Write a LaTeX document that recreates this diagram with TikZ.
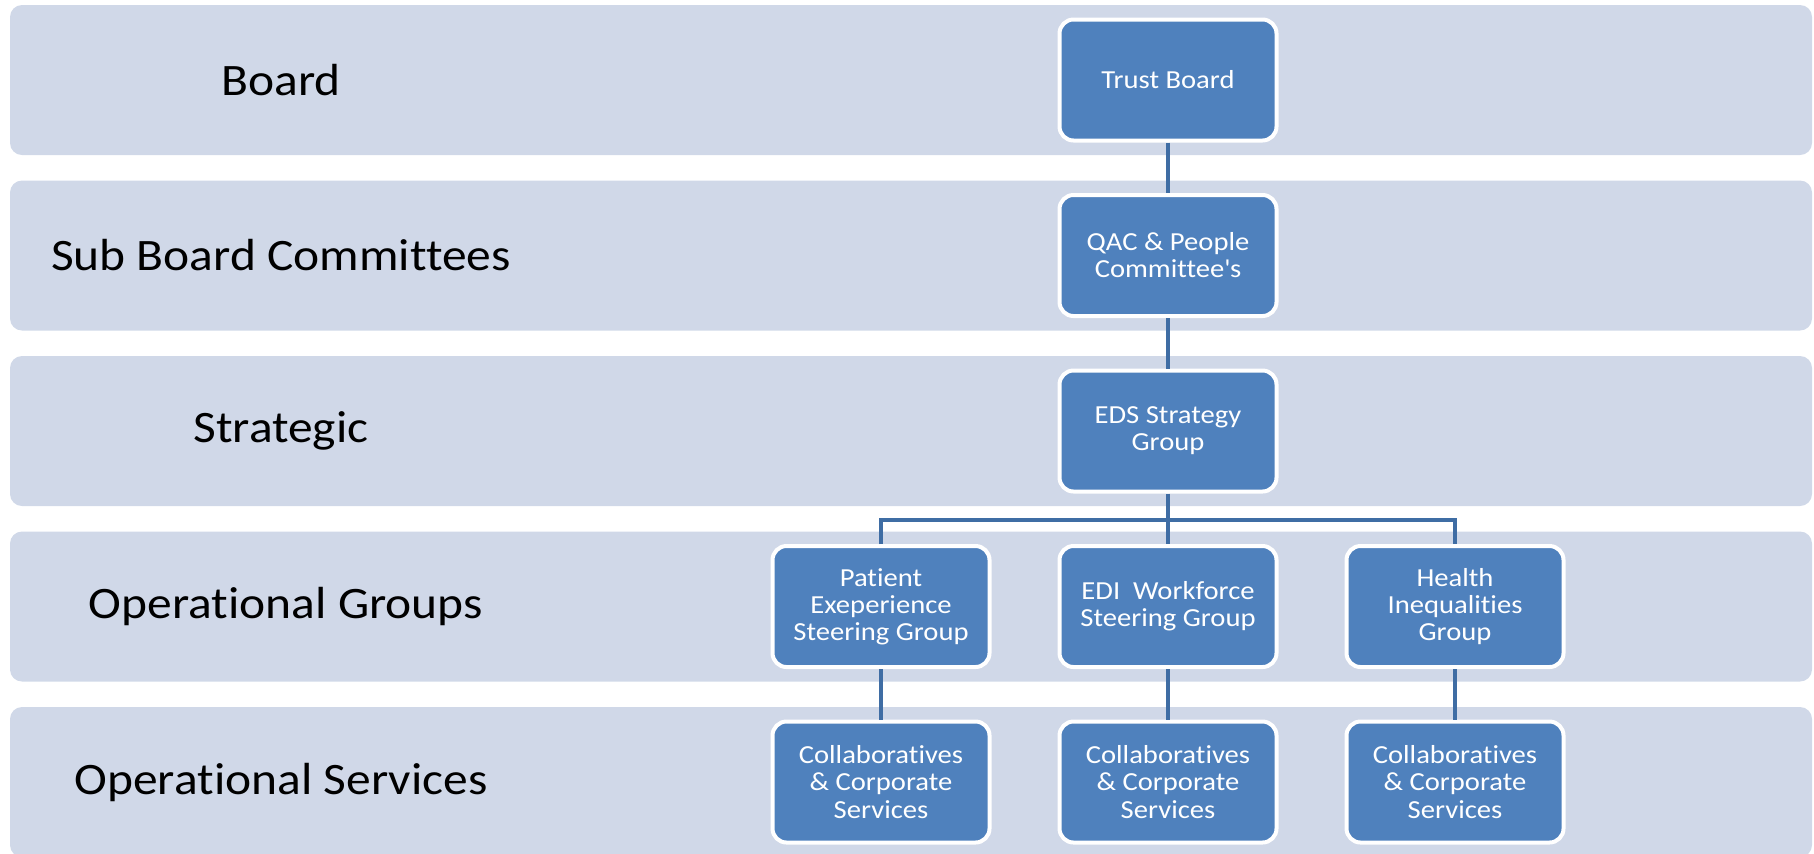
\documentclass[tikz,border=0pt]{standalone}
\usepackage{fontspec}
\setmainfont[FakeStretch=1.1,Ligatures={NoCommon,TeX}]{Carlito}
\definecolor{laneblue}{HTML}{D0D8E8}
\definecolor{boxblue}{HTML}{4F81BD}
\definecolor{linkblue}{HTML}{3F6DA4}
\begin{document}
\begin{tikzpicture}[
        unit/.style={draw=white,line width=0.04cm,fill=boxblue,rounded corners=0.14cm,
            minimum width=2.17cm,minimum height=1.21cm,align=center,text=white,
            font=\fontsize{7.4}{7.7}\selectfont},
        link/.style={draw=linkblue,line width=0.045cm}
    ]
            \clip (0,0) rectangle (18.14,8.53);
            \foreach \x/\y/\t [count=\i] in {2.81/7.73/Board,2.81/5.975/Sub Board Committees,2.81/4.22/Strategic,2.86/2.465/Operational Groups,2.81/0.71/Operational Services} {
                \fill[laneblue,rounded corners=0.12cm] (0.1,\y-0.75) rectangle (18.12,\y+0.75);
                \node[font=\fontsize{12.8}{15}\selectfont] (lane\i) at (\x,\y) {\t};
            }
            \node[unit] (tb) at (11.68,7.73) {Trust Board};
            \node[unit] (qac) at (11.68,5.975) {QAC \& People\\Committee\textquotesingle s};
            \node[unit] (eds) at (11.68,4.22) {EDS Strategy\\Group};
            \node[unit] (pesg) at (8.81,2.465) {Patient\\Exeperience\\Steering Group};
            \node[unit] (edi) at (11.68,2.465) {EDI\ \ Workforce\\Steering Group};
            \node[unit] (hig) at (14.55,2.465) {Health\\Inequalities\\Group};
            \foreach \n/\x in {cs1/8.81,cs2/11.68,cs3/14.55} {
                \node[unit] (\n) at (\x,0.71) {Collaboratives\\\& Corporate\\Services};
            }
            \coordinate (bus) at (11.68,3.33);
            \draw[link] (tb) -- (qac);
            \draw[link] (qac) -- (eds);
            \draw[link] (eds) -- (edi);
            \draw[link] (pesg) |- (bus) -| (hig);
            \draw[link] (pesg) -- (cs1);
            \draw[link] (edi) -- (cs2);
            \draw[link] (hig) -- (cs3);
        \end{tikzpicture}
\end{document}
